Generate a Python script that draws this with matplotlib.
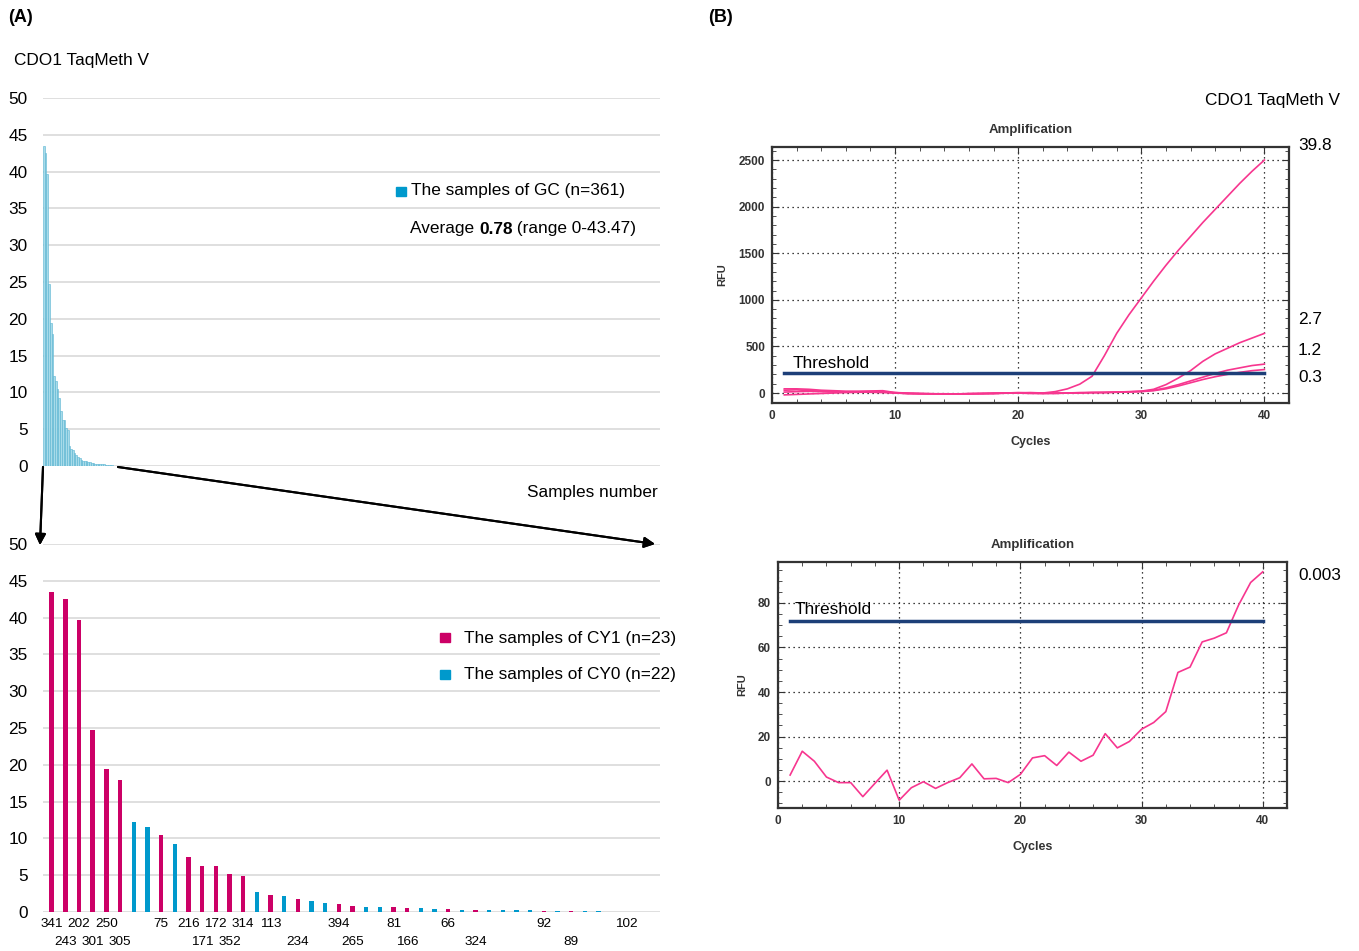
import numpy as np
import matplotlib.pyplot as plt
from matplotlib.patches import Rectangle

W, H = 1359, 951
FONT = 'Liberation Sans'
plt.rcParams['font.family'] = [FONT, 'DejaVu Sans']
FS = 12.4

# ---- panel A data: sorted values of the 45 positive samples (CY1 red, CY0 blue)
values = [43.47, 42.5, 39.7, 24.7, 19.4, 17.9, 12.2, 11.5, 10.5, 9.2,
          7.5, 6.3, 6.2, 5.1, 4.9, 2.7, 2.3, 2.2, 1.7, 1.5,
          1.2, 1.1, 0.8, 0.7, 0.7, 0.7, 0.6, 0.5, 0.4, 0.4,
          0.3, 0.3, 0.27, 0.25, 0.23, 0.22, 0.2, 0.15, 0.12, 0.1,
          0.08, 0.06, 0.04, 0.02, 0.01]
groups = ['CY1'] * 6 + ['CY0', 'CY0', 'CY1', 'CY0'] + ['CY1'] * 5 + \
         ['CY0', 'CY1', 'CY0', 'CY1', 'CY0', 'CY0', 'CY1', 'CY1', 'CY0', 'CY0',
          'CY1', 'CY1', 'CY0', 'CY0', 'CY1', 'CY0', 'CY1', 'CY0', 'CY0', 'CY0',
          'CY0', 'CY1', 'CY0', 'CY1', 'CY0', 'CY0', 'CY0', 'CY1', 'CY0', 'CY0']
n_gc = 361
gc_values = values + [0.0] * (n_gc - len(values))

# sample ids under the red bars: (bar index, id, row)
sample_ids = [(0, '341', 0), (1, '243', 1), (2, '202', 0), (3, '301', 1), (4, '250', 0),
              (5, '305', 1), (8, '75', 0), (10, '216', 0), (11, '171', 1), (12, '172', 0),
              (13, '352', 1), (14, '314', 0), (16, '113', 0), (18, '234', 1), (21, '394', 0),
              (22, '265', 1), (25, '81', 0), (26, '166', 1), (29, '66', 0), (31, '324', 1),
              (36, '92', 0), (38, '89', 1), (42, '102', 0)]

# ---- panel B data: amplification curves (RFU per cycle)
cycles = np.arange(1, 41)
curve_398 = [30, 35, 25, 20, 15, 12, 10, 8, 5, 0, -5, -8, -8, -10, -10, -8, -5, -5, 0, 2,
             5, 0, 15, 45, 95, 180, 400, 640, 840, 1020, 1200, 1370, 1530, 1680, 1830, 1970,
             2110, 2250, 2380, 2500]
curve_27 = [45, 45, 40, 30, 25, 20, 20, 22, 25, 5, -5, -5, -8, -10, -10, -10, -8, -5, 0, 0,
            -5, -5, -5, 0, 0, 5, 5, 10, 15, 20, 40, 90, 160, 240, 340, 420, 480, 540, 590, 640]
curve_12 = [-20, -15, -10, -5, 0, 5, 8, 10, 10, 5, 0, -5, -8, -8, -10, -5, -5, 0, 0, 5,
            0, -5, 0, 0, 5, 5, 8, 10, 12, 18, 30, 55, 90, 130, 170, 210, 245, 270, 295, 310]
curve_03 = [10, 15, 18, 15, 10, 10, 12, 15, 15, 0, -5, -8, -10, -10, -10, -8, -5, -5, -2, 0,
            0, 0, -3, 0, 2, 5, 5, 8, 12, 15, 25, 45, 75, 110, 145, 175, 200, 222, 240, 252]
curve_0003 = [2.7, 13.4, 8.9, 1.8, -0.7, -0.7, -7, -1, 4.9, -8.6,
              -3, -0.3, -3.3, -0.7, 1.5, 7.7, 1, 1.2, -0.7, 3,
              10.4, 11.4, 7, 13, 8.9, 11.6, 21.3, 14.9, 17.8, 23.3,
              26.3, 31.2, 48.8, 51.2, 62.5, 64.2, 66.6, 79, 89.2, 94]
threshold_top = 220
threshold_bottom = 72

RED = '#cc0066'
BLUE = '#0099cc'
PINK = '#f7368f'
NAVY = '#1d3f78'
GRID = '#d9d9d9'


def fx(x):
    return x / W


def fy(y):
    return 1 - y / H


def box(l, t, r, b):
    return [fx(l), fy(b), (r - l) / W, (b - t) / H]


fig = plt.figure(figsize=(W / 100, H / 100), dpi=100)

# ---------------- (A) top: all GC samples
ax1 = fig.add_axes(box(43, 98, 660, 466))
ax1.bar(np.arange(n_gc), gc_values, width=1.0, color='#a8dbe9', edgecolor='#58b4d2', linewidth=0.4)
ax1.set_xlim(-0.5, n_gc - 0.5)
ax1.set_ylim(0, 50)
ax1.set_yticks(range(0, 51, 5))
ax1.set_xticks([])
ax1.grid(axis='y', color=GRID, lw=1.2)
ax1.set_axisbelow(True)
for s in ax1.spines.values():
    s.set_visible(False)
ax1.tick_params(axis='y', length=0, pad=11, labelsize=FS)

# ---------------- (A) bottom: positive samples
ax2 = fig.add_axes(box(43, 544, 660, 912))
idx = np.arange(len(values))
cols = [RED if g == 'CY1' else BLUE for g in groups]
ax2.bar(idx, values, width=0.33, color=cols)
ax2.set_xlim(-0.64, 44.5)
ax2.set_ylim(0, 50)
ax2.set_yticks(range(0, 51, 5))
ax2.set_xticks([])
ax2.grid(axis='y', color=GRID, lw=1.2)
ax2.set_axisbelow(True)
for s in ax2.spines.values():
    s.set_visible(False)
ax2.tick_params(axis='y', length=0, pad=11, labelsize=FS)
for i, lab, row in sample_ids:
    ax2.text(i, -1.65 if row == 0 else -4.1, lab, ha='center', va='center',
             fontsize=9.7, clip_on=False)

# arrows linking the two charts
for start, end in [((43, 467), (40, 545)), ((118, 467), (655, 544))]:
    fig.add_artist(plt.annotate('', xy=(fx(end[0]), fy(end[1])), xytext=(fx(start[0]), fy(start[1])),
                                xycoords='figure fraction', textcoords='figure fraction',
                                arrowprops=dict(arrowstyle='-|>', color='black', lw=1.5,
                                                mutation_scale=16, shrinkA=0, shrinkB=0)))

# texts of panel A
fig.text(fx(8), fy(17), '(A)', fontsize=13, fontweight='bold', va='center')
fig.text(fx(708), fy(17), '(B)', fontsize=13, fontweight='bold', va='center')
fig.text(fx(14), fy(61), 'CDO1 TaqMeth V', fontsize=FS, va='center')
fig.text(fx(658), fy(493), 'Samples number', fontsize=FS, va='center', ha='right')

fig.add_artist(Rectangle((fx(396), fy(196)), 10 / W, 9 / H, color=BLUE, transform=fig.transFigure))
fig.text(fx(411), fy(191), 'The samples of GC (n=361)', fontsize=FS, va='center')
t1 = fig.text(fx(410), fy(229), 'Average ', fontsize=FS, va='center')
t2 = fig.text(0, 0, '0.78', fontsize=FS, fontweight='bold', va='bottom')
t3 = fig.text(0, 0, ' (range 0-43.47)', fontsize=FS, va='bottom')
fig.canvas.draw()
r = fig.canvas.get_renderer()
bb1 = t1.get_window_extent(r)
t2.set_position((bb1.x1 / W, bb1.y0 / H))
bb2 = t2.get_window_extent(r)
t3.set_position((bb2.x1 / W, bb1.y0 / H))

fig.add_artist(Rectangle((fx(440), fy(642)), 10 / W, 9 / H, color=RED, transform=fig.transFigure))
fig.text(fx(464), fy(638), 'The samples of CY1 (n=23)', fontsize=FS, va='center')
fig.add_artist(Rectangle((fx(440), fy(679)), 10 / W, 9 / H, color=BLUE, transform=fig.transFigure))
fig.text(fx(464), fy(674), 'The samples of CY0 (n=22)', fontsize=FS, va='center')


# ---------------- (B) amplification plots
def amp_axes(rect, ylim, yticks, yminor):
    ax = fig.add_axes(rect)
    ax.set_xlim(0, 42)
    ax.set_ylim(*ylim)
    ax.set_xticks(range(0, 41, 10))
    ax.set_xticks(range(0, 42, 2), minor=True)
    ax.set_yticks(yticks)
    ax.set_yticks(yminor, minor=True)
    ax.grid(True, which='major', color='black', lw=0.9, linestyle=(0, (1, 3)))
    for s in ax.spines.values():
        s.set_color('#333333')
        s.set_linewidth(1.6)
    ax.tick_params(which='both', direction='in', top=True, right=True, color='#333333')
    ax.tick_params(which='major', length=5, labelsize=8.5, pad=5, labelcolor='#333333')
    ax.tick_params(which='minor', length=3)
    for lab in ax.get_xticklabels() + ax.get_yticklabels():
        lab.set_fontweight('bold')
    ax.set_title('Amplification', fontsize=9.5, fontweight='bold', pad=10, color='#333333')
    ax.set_xlabel('Cycles', fontsize=9, fontweight='bold', labelpad=10, color='#333333')
    ax.set_ylabel('RFU', fontsize=8, fontweight='bold', labelpad=8, color='#333333')
    return ax


ax3 = amp_axes(box(772, 147, 1289, 403), (-107, 2640), range(0, 2501, 500), range(-100, 2601, 100))
for c in [curve_398, curve_27, curve_12, curve_03]:
    ax3.plot(cycles, c, color=PINK, lw=1.2)
ax3.plot([1, 40], [threshold_top, threshold_top], color=NAVY, lw=2.5)
ax3.text(1.7, threshold_top + 15, 'Threshold', fontsize=FS, va='bottom')

ax4 = amp_axes(box(778, 562, 1287, 808), (-12.1, 98.4), range(0, 81, 20), range(-10, 98, 5))
ax4.plot(cycles, curve_0003, color=PINK, lw=1.2)
ax4.plot([1, 40], [threshold_bottom, threshold_bottom], color=NAVY, lw=2.5)
ax4.text(1.4, threshold_bottom + 1.5, 'Threshold', fontsize=FS, va='bottom')

fig.text(fx(1205), fy(101), 'CDO1 TaqMeth V', fontsize=FS, va='center')
for y, lab in [(145, '39.8'), (320, '2.7'), (351, '1.2'), (378, '0.3')]:
    fig.text(fx(1298), fy(y), lab, fontsize=FS, va='center')
fig.text(fx(1298), fy(575), '0.003', fontsize=FS, va='center')

fig.savefig('out.png', dpi=100)
